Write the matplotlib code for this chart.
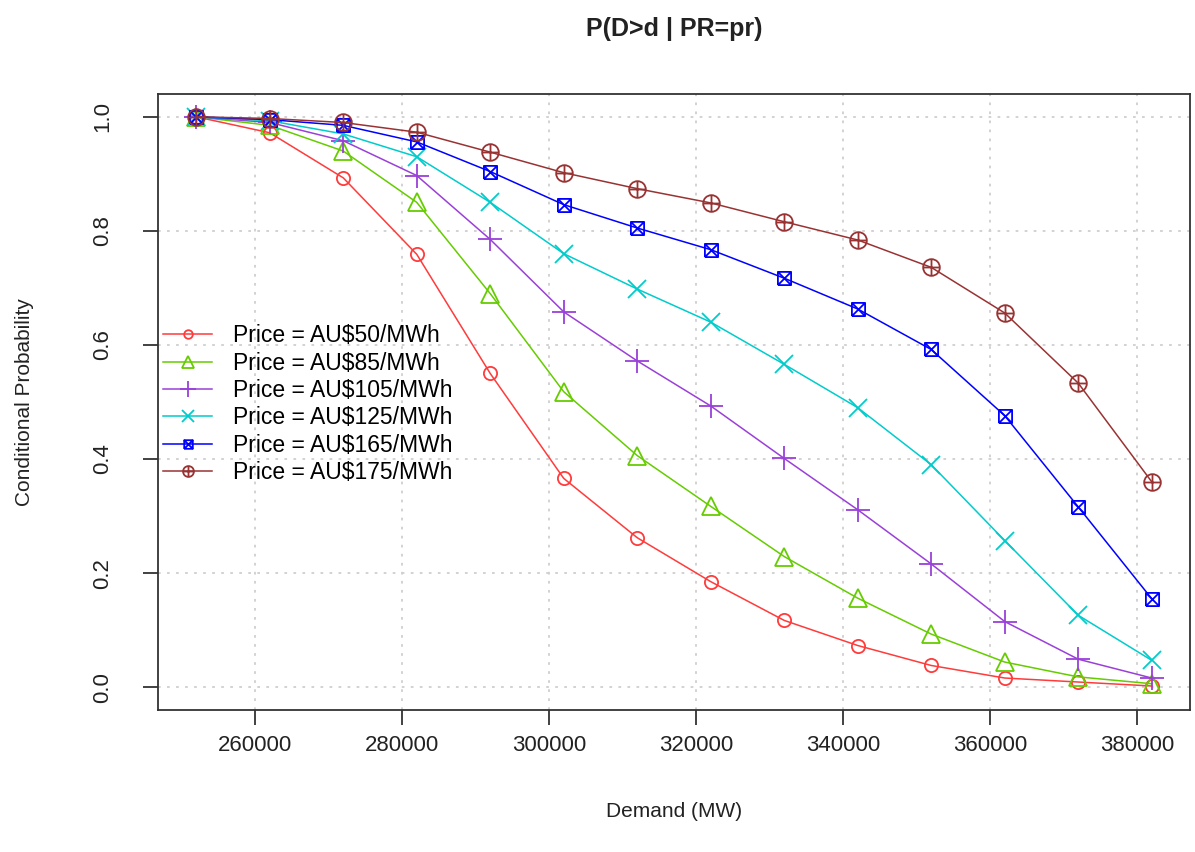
import numpy as np
import matplotlib.pyplot as plt
from matplotlib.path import Path

plt.rcParams['font.family'] = ['Liberation Sans', 'DejaVu Sans']

# demand levels (MW)
demand = [252000, 262000, 272000, 282000, 292000, 302000, 312000,
          322000, 332000, 342000, 352000, 362000, 372000, 382000]

# P(D>d | PR=pr)
p50 = [1.0, 0.972, 0.893, 0.759, 0.550, 0.366, 0.262, 0.185, 0.117, 0.073, 0.038, 0.016, 0.009, 0.002]
p85 = [1.0, 0.985, 0.940, 0.850, 0.690, 0.518, 0.406, 0.317, 0.229, 0.156, 0.093, 0.044, 0.018, 0.006]
p105 = [1.0, 0.990, 0.958, 0.897, 0.785, 0.658, 0.572, 0.493, 0.401, 0.311, 0.216, 0.115, 0.049, 0.016]
p125 = [1.0, 0.993, 0.970, 0.930, 0.850, 0.760, 0.698, 0.640, 0.566, 0.490, 0.390, 0.257, 0.126, 0.047]
p165 = [1.0, 0.995, 0.985, 0.956, 0.904, 0.846, 0.805, 0.767, 0.717, 0.663, 0.592, 0.476, 0.316, 0.155]
p175 = [1.0, 0.997, 0.990, 0.973, 0.938, 0.902, 0.874, 0.849, 0.816, 0.784, 0.736, 0.656, 0.533, 0.360]

labels = ['Price = AU$50/MWh', 'Price = AU$85/MWh', 'Price = AU$105/MWh',
          'Price = AU$125/MWh', 'Price = AU$165/MWh', 'Price = AU$175/MWh']
colors = ['#FF3B3B', '#66CC00', '#9A40D9', '#00CCCC', '#0000FF', '#993333']

xticks = [260000, 280000, 300000, 320000, 340000, 360000, 380000]
yticks = [0.0, 0.2, 0.4, 0.6, 0.8, 1.0]

# R style markers: square with x (pch 7), circle with + (pch 10)
M, L = Path.MOVETO, Path.LINETO
sq_x = Path([[-1, -1], [1, -1], [1, 1], [-1, 1], [-1, -1],
             [-1, -1], [1, 1], [-1, 1], [1, -1]],
            [M, L, L, L, L, M, L, M, L])
circ = Path.unit_circle()
plus = Path([[-1, 0], [1, 0], [0, -1], [0, 1]], [M, L, M, L])
circ_plus = Path.make_compound_path(circ, plus)

markers = ['o', '^', '+', 'x', sq_x, circ_plus]
msizes = [9.5, 13, 17, 13, 9.5, 12]

fig = plt.figure(figsize=(11.95, 8.52), dpi=100)
ax = fig.add_axes([0.1322, 0.1667, 0.8636, 0.7230])

series = [p50, p85, p105, p125, p165, p175]
for vals, lab, col, mk, ms in zip(series, labels, colors, markers, msizes):
    ax.plot(demand, vals, color=col, lw=1.1, marker=mk, ms=ms,
            mfc='none', mec=col, mew=1.3, label=lab)

ax.set_xlim(246800, 387200)
ax.set_ylim(-0.04, 1.04)
ax.set_xticks(xticks)
ax.set_xticklabels([str(v) for v in xticks])
ax.set_yticks(yticks)
ax.set_yticklabels(['%.1f' % v for v in yticks], rotation=90, va='center')

ax.grid(True, color='#cfcfcf', linestyle=(0, (1.5, 3.5)), lw=1.3)
ax.set_axisbelow(True)

for s in ax.spines.values():
    s.set_linewidth(1.3)
    s.set_color('#333333')
ax.tick_params(axis='both', direction='out', length=11, width=1.3,
               color='#333333', labelsize=16, labelcolor='#222222')
ax.tick_params(axis='x', pad=7)
ax.tick_params(axis='y', pad=21)

ax.set_xlabel('Demand (MW)', fontsize=15, labelpad=33, color='#222222')
ax.set_ylabel('Conditional Probability', fontsize=15, labelpad=42, color='#222222')
ax.set_title('P(D>d | PR=pr)', fontsize=18, fontweight='bold', pad=42,
             color='#222222')

ax.legend(loc='upper left', bbox_to_anchor=(0.005, 0.626), frameon=False,
          fontsize=16.5, handlelength=2.15, handletextpad=0.9,
          labelspacing=0.19, borderaxespad=0.0, borderpad=0.0,
          markerscale=0.65)

fig.savefig('out.png', dpi=100)
